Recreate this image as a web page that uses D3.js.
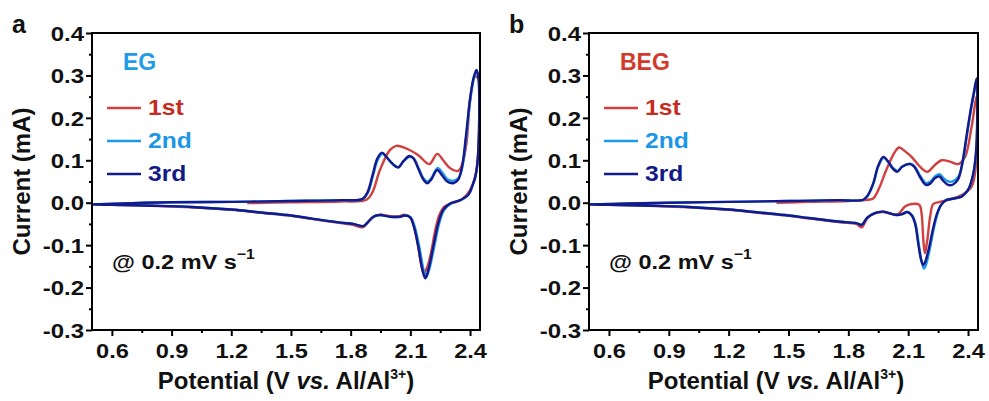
<!DOCTYPE html>
<html>
<head>
<meta charset="utf-8">
<script src="https://cdn.jsdelivr.net/npm/d3@7"></script>
<style>
	body { margin: 0; background: #fff; }
	svg text { font-family: Arial, "Liberation Sans", Helvetica, sans-serif; font-weight: bold; }
</style>
</head>
<body>
<svg id="chart" width="989" height="401"></svg>
<script>
// ---- data: [potential (V), current (mA)] ----
var xTicks = [0.6, 0.9, 1.2, 1.5, 1.8, 2.1, 2.4];
var xMinorTicks = [0.75, 1.05, 1.35, 1.65, 1.95, 2.25];
var yTicks = [-0.3, -0.2, -0.1, 0.0, 0.1, 0.2, 0.3, 0.4];
var yMinorTicks = [-0.25, -0.15, -0.05, 0.05, 0.15, 0.25, 0.35];
var cycleNames = ['1st', '2nd', '3rd'];

// panel a, EG
var egCycle1 = [
	[1.28, -0.001], [1.5, 0.001], [1.75, 0.003], [1.88, 0.007], [1.91, 0.025], [1.947, 0.077], [1.997, 0.124],
	[2.03, 0.134], [2.088, 0.126], [2.14, 0.112], [2.195, 0.091], [2.235, 0.115], [2.265, 0.100], [2.30, 0.081],
	[2.34, 0.075], [2.36, 0.090], [2.382, 0.140], [2.40, 0.242], [2.425, 0.297], [2.445, 0.290],
	[2.446, 0.200], [2.44, 0.110], [2.425, 0.060], [2.40, 0.030], [2.365, 0.010], [2.33, 0.002], [2.30, -0.002],
	[2.27, -0.010], [2.245, -0.030], [2.225, -0.065], [2.205, -0.115], [2.185, -0.152], [2.168, -0.166],
	[2.155, -0.148], [2.138, -0.100], [2.118, -0.055], [2.10, -0.035], [2.07, -0.028], [2.045, -0.032],
	[2.0, -0.032], [1.95, -0.028], [1.915, -0.033], [1.88, -0.050], [1.86, -0.058], [1.81, -0.052],
	[1.75, -0.048], [1.6, -0.038], [1.5, -0.031], [1.35, -0.024], [1.2, -0.017], [1.0, -0.011],
	[0.8, -0.007], [0.6, -0.005], [0.5, -0.004]
];
var egCycle2 = [
	[0.5, -0.004], [0.7, -0.001], [0.9, 0.001], [1.2, 0.002], [1.5, 0.004], [1.75, 0.006], [1.862, 0.009],
	[1.888, 0.025], [1.912, 0.063], [1.937, 0.102], [1.96, 0.115], [1.982, 0.106], [2.012, 0.091],
	[2.04, 0.084], [2.067, 0.098], [2.097, 0.108], [2.117, 0.104], [2.142, 0.081], [2.167, 0.057],
	[2.187, 0.050], [2.207, 0.059], [2.237, 0.082], [2.262, 0.070], [2.287, 0.055], [2.317, 0.052],
	[2.342, 0.058], [2.362, 0.086], [2.382, 0.160], [2.402, 0.245], [2.42, 0.295], [2.433, 0.310],
	[2.443, 0.292], [2.447, 0.200], [2.443, 0.130], [2.436, 0.085], [2.425, 0.058], [2.417, 0.046],
	[2.392, 0.019], [2.352, 0.006], [2.305, -0.002], [2.27, -0.017], [2.245, -0.049], [2.22, -0.104],
	[2.195, -0.157], [2.18, -0.175], [2.166, -0.157], [2.145, -0.104], [2.122, -0.057], [2.101, -0.034],
	[2.072, -0.030], [2.048, -0.033], [1.997, -0.033], [1.947, -0.029], [1.914, -0.033], [1.88, -0.049],
	[1.864, -0.055], [1.813, -0.050], [1.75, -0.047], [1.6, -0.037], [1.5, -0.030], [1.35, -0.023],
	[1.2, -0.016], [1.0, -0.010], [0.8, -0.007], [0.6, -0.005], [0.5, -0.004]
];
var egCycle3 = [
	[0.5, -0.004], [0.7, -0.001], [0.9, 0.001], [1.2, 0.002], [1.5, 0.004], [1.75, 0.006], [1.86, 0.009],
	[1.885, 0.025], [1.91, 0.065], [1.935, 0.105], [1.958, 0.118], [1.98, 0.108], [2.01, 0.092],
	[2.038, 0.083], [2.065, 0.098], [2.095, 0.110], [2.115, 0.105], [2.14, 0.080], [2.165, 0.055],
	[2.185, 0.046], [2.205, 0.055], [2.235, 0.077], [2.26, 0.064], [2.285, 0.050], [2.315, 0.046],
	[2.34, 0.054], [2.36, 0.085], [2.38, 0.160], [2.40, 0.245], [2.418, 0.295], [2.432, 0.313],
	[2.442, 0.295], [2.446, 0.200], [2.442, 0.130], [2.435, 0.085], [2.425, 0.058], [2.416, 0.046],
	[2.39, 0.018], [2.35, 0.006], [2.30, -0.002], [2.265, -0.017], [2.24, -0.049], [2.215, -0.104],
	[2.19, -0.159], [2.175, -0.178], [2.161, -0.159], [2.14, -0.104], [2.118, -0.057], [2.098, -0.034],
	[2.07, -0.030], [2.048, -0.033], [1.997, -0.033], [1.947, -0.029], [1.914, -0.033], [1.88, -0.049],
	[1.864, -0.055], [1.813, -0.050], [1.75, -0.047], [1.6, -0.037], [1.5, -0.030], [1.35, -0.023],
	[1.2, -0.016], [1.0, -0.010], [0.8, -0.007], [0.6, -0.005], [0.5, -0.004]
];

// panel b, BEG
var begCycle1 = [
	[1.44, 0.000], [1.6, 0.002], [1.8, 0.004], [1.9, 0.007], [1.925, 0.010], [1.955, 0.035], [1.99, 0.077],
	[2.034, 0.120], [2.055, 0.130], [2.085, 0.121], [2.117, 0.108], [2.159, 0.085], [2.196, 0.073],
	[2.234, 0.089], [2.268, 0.100], [2.31, 0.097], [2.351, 0.091], [2.385, 0.108], [2.418, 0.179],
	[2.443, 0.250], [2.446, 0.180], [2.44, 0.090], [2.418, 0.038], [2.368, 0.018], [2.31, 0.008],
	[2.26, 0.002], [2.226, -0.003], [2.21, -0.033], [2.196, -0.088], [2.184, -0.119], [2.176, -0.088],
	[2.167, -0.025], [2.156, -0.005], [2.117, -0.003], [2.084, -0.009], [2.05, -0.027], [2.02, -0.027],
	[1.975, -0.022], [1.93, -0.025], [1.895, -0.037], [1.866, -0.058], [1.84, -0.050], [1.76, -0.046],
	[1.6, -0.037], [1.5, -0.031], [1.35, -0.024], [1.2, -0.017], [1.0, -0.011], [0.8, -0.007],
	[0.6, -0.005], [0.5, -0.004]
];
var begCycle2 = [
	[0.5, -0.004], [0.7, -0.002], [0.9, 0.000], [1.2, 0.002], [1.5, 0.004], [1.75, 0.006], [1.877, 0.007],
	[1.9, 0.018], [1.927, 0.046], [1.95, 0.085], [1.977, 0.106], [2.0, 0.097], [2.025, 0.081],
	[2.047, 0.075], [2.072, 0.086], [2.112, 0.092], [2.132, 0.086], [2.162, 0.062], [2.19, 0.046],
	[2.212, 0.050], [2.237, 0.063], [2.257, 0.067], [2.277, 0.058], [2.302, 0.050], [2.327, 0.051],
	[2.352, 0.062], [2.372, 0.092], [2.392, 0.150], [2.412, 0.210], [2.432, 0.262], [2.444, 0.290],
	[2.447, 0.200], [2.441, 0.120], [2.426, 0.066], [2.40, 0.030], [2.37, 0.016], [2.33, 0.010],
	[2.29, 0.006], [2.267, -0.004], [2.248, -0.025], [2.228, -0.062], [2.208, -0.110], [2.188, -0.148],
	[2.179, -0.155], [2.168, -0.140], [2.153, -0.097], [2.137, -0.050], [2.12, -0.030], [2.095, -0.022],
	[2.07, -0.027], [2.04, -0.029], [2.0, -0.024], [1.975, -0.021], [1.93, -0.025], [1.895, -0.035],
	[1.867, -0.052], [1.84, -0.048], [1.76, -0.045], [1.6, -0.036], [1.5, -0.030], [1.35, -0.023],
	[1.2, -0.016], [1.0, -0.010], [0.8, -0.007], [0.6, -0.005], [0.5, -0.004]
];
var begCycle3 = [
	[0.5, -0.004], [0.7, -0.002], [0.9, 0.000], [1.2, 0.002], [1.5, 0.004], [1.75, 0.006], [1.875, 0.007],
	[1.898, 0.018], [1.925, 0.046], [1.948, 0.085], [1.975, 0.108], [1.998, 0.098], [2.022, 0.081],
	[2.045, 0.073], [2.07, 0.085], [2.11, 0.091], [2.13, 0.085], [2.16, 0.060], [2.189, 0.042],
	[2.21, 0.045], [2.235, 0.058], [2.256, 0.062], [2.275, 0.052], [2.30, 0.042], [2.325, 0.043],
	[2.35, 0.055], [2.37, 0.090], [2.39, 0.150], [2.41, 0.210], [2.43, 0.262], [2.443, 0.293],
	[2.446, 0.200], [2.44, 0.120], [2.425, 0.066], [2.40, 0.030], [2.37, 0.015], [2.33, 0.010],
	[2.29, 0.006], [2.265, -0.005], [2.245, -0.025], [2.225, -0.060], [2.205, -0.105], [2.185, -0.140],
	[2.176, -0.147], [2.165, -0.135], [2.15, -0.095], [2.135, -0.050], [2.118, -0.030], [2.095, -0.022],
	[2.07, -0.027], [2.04, -0.029], [2.0, -0.024], [1.975, -0.021], [1.93, -0.025], [1.895, -0.035],
	[1.867, -0.052], [1.84, -0.048], [1.76, -0.045], [1.6, -0.036], [1.5, -0.030], [1.35, -0.023],
	[1.2, -0.016], [1.0, -0.010], [0.8, -0.007], [0.6, -0.005], [0.5, -0.004]
];

// ---- look ----
var lineColors = ['#d23f3f', '#1f9aeb', '#141a8c'];
var legendTextColors = ['#c42c22', '#1e96e6', '#121a86'];

var panels = [
	{ letter: 'a', name: 'EG', nameColor: '#1f9be8', cycles: [egCycle1, egCycle2, egCycle3], left: 92, right: 480, titleX: 286 },
	{ letter: 'b', name: 'BEG', nameColor: '#d23a2c', cycles: [begCycle1, begCycle2, begCycle3], left: 589, right: 978, titleX: 776 }
];

var plotTop = 33, plotBottom = 330;
var svg = d3.select('#chart');
svg.append('rect').attr('width', 989).attr('height', 401).attr('fill', '#fff');

// horizontally stretched text, the figure's labels are wider than plain Arial
function stretch(sel, sx) {
	sel.attr('transform', function() {
		var x = +this.getAttribute('x') || 0;
		return 'translate(' + x + ',0) scale(' + sx + ',1) translate(' + (-x) + ',0)';
	});
}

panels.forEach(function(p) {
	var x = d3.scaleLinear().domain([0.5, 2.45]).range([p.left, p.right]);
	var y = d3.scaleLinear().domain([-0.3, 0.4]).range([plotBottom, plotTop]);
	var g = svg.append('g');

	// curves
	var line = d3.line()
		.x(function(d) { return x(d[0]); })
		.y(function(d) { return y(d[1]); })
		.curve(d3.curveCatmullRom.alpha(0.5));

	var clipId = 'clip-' + p.letter;
	g.append('clipPath').attr('id', clipId)
		.append('rect').attr('x', p.left).attr('y', plotTop).attr('width', p.right - p.left).attr('height', plotBottom - plotTop);

	g.append('g').attr('clip-path', 'url(#' + clipId + ')')
		.selectAll('path')
		.data(p.cycles)
		.enter()
		.append('path')
		.attr('d', line)
		.attr('fill', 'none')
		.attr('stroke', function(d, i) { return lineColors[i]; })
		.attr('stroke-width', 2.4)
		.attr('stroke-linejoin', 'round');

	// axes
	var xAxis = g.append('g').attr('transform', 'translate(0,' + plotBottom + ')')
		.call(d3.axisBottom(x).tickValues(xTicks).tickSize(6).tickFormat(d3.format('.1f')));
	g.append('g').attr('transform', 'translate(0,' + plotBottom + ')')
		.call(d3.axisBottom(x).tickValues(xMinorTicks).tickSize(3).tickFormat(''));
	var yAxis = g.append('g').attr('transform', 'translate(' + p.left + ',0)')
		.call(d3.axisLeft(y).tickValues(yTicks).tickSize(6).tickFormat(d3.format('.1f')));
	g.append('g').attr('transform', 'translate(' + p.left + ',0)')
		.call(d3.axisLeft(y).tickValues(yMinorTicks).tickSize(3).tickFormat(''));

	g.selectAll('.domain').remove();
	g.selectAll('.tick line').attr('stroke', '#000').attr('stroke-width', 2);

	xAxis.selectAll('text')
		.attr('y', 28).attr('dy', 0)
		.attr('font-size', 20).attr('fill', '#111')
		.call(stretch, 1.18);
	yAxis.selectAll('text')
		.attr('x', -8).attr('dy', '0.36em')
		.attr('font-size', 20).attr('fill', '#111')
		.text(function(d) { return d3.format('.1f')(d).replace('−', '-'); })
		.call(stretch, 1.2);

	// frame
	g.append('rect')
		.attr('x', p.left).attr('y', plotTop)
		.attr('width', p.right - p.left).attr('height', plotBottom - plotTop)
		.attr('fill', 'none').attr('stroke', '#000').attr('stroke-width', 2);

	// panel letter
	g.append('text').attr('x', p.left - 80).attr('y', 33)
		.attr('font-size', 25).attr('fill', '#111').text(p.letter);

	// axis titles
	g.append('text')
		.attr('transform', 'translate(' + (p.left - 62) + ',' + ((plotTop + plotBottom) / 2) + ') rotate(-90)')
		.attr('text-anchor', 'middle').attr('font-size', 24).attr('fill', '#111')
		.text('Current (mA)');

	var xt = g.append('text').attr('x', p.titleX).attr('y', 389)
		.attr('text-anchor', 'middle').attr('font-size', 24).attr('fill', '#111');
	xt.append('tspan').text('Potential (V ');
	xt.append('tspan').attr('font-style', 'italic').text('vs.');
	xt.append('tspan').text(' Al/Al');
	xt.append('tspan').attr('font-size', 14).attr('dy', -10).text('3+');
	xt.append('tspan').attr('dy', 10).text(')');

	// legend
	g.append('text').attr('x', p.left + 31).attr('y', 70)
		.attr('font-size', 23).attr('fill', p.nameColor).text(p.name);

	var legendY = [108, 141, 174];
	var leg = g.selectAll('.legend')
		.data(cycleNames)
		.enter()
		.append('g')
		.attr('class', 'legend');
	leg.append('line')
		.attr('x1', p.left + 15).attr('x2', p.left + 49)
		.attr('y1', function(d, i) { return legendY[i]; })
		.attr('y2', function(d, i) { return legendY[i]; })
		.attr('stroke', function(d, i) { return lineColors[i]; })
		.attr('stroke-width', 2.5);
	leg.append('text')
		.attr('x', p.left + 56)
		.attr('y', function(d, i) { return legendY[i] + 7; })
		.attr('font-size', 22)
		.attr('fill', function(d, i) { return legendTextColors[i]; })
		.text(function(d) { return d; })
		.call(stretch, 1.12);

	// scan rate note
	var note = g.append('text').attr('x', p.left + 20).attr('y', 269)
		.attr('font-size', 21).attr('fill', '#111');
	note.append('tspan').text('@ 0.2 mV s');
	note.append('tspan').attr('font-size', 14).attr('dy', -10).text('\u22121');
	note.call(stretch, 1.12);
});
</script>
</body>
</html>
